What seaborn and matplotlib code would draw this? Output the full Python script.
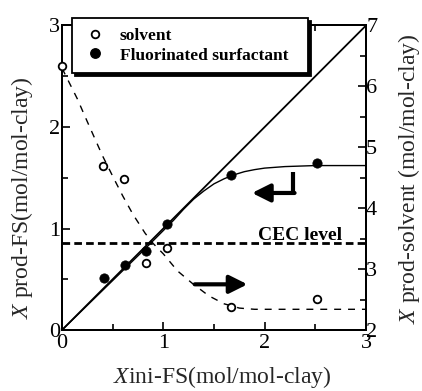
import matplotlib
matplotlib.use("Agg")
import matplotlib.pyplot as plt
import seaborn as sns
import pandas as pd
from matplotlib.lines import Line2D
from matplotlib.ticker import MultipleLocator

# ---- data ----
fs_x = [0.41, 0.62, 0.83, 1.04, 1.67, 2.52]
fs_y = [0.51, 0.64, 0.78, 1.04, 1.53, 1.65]

solv_x = [0.0, 0.40, 0.61, 0.83, 1.04, 1.67, 2.52]
solv_y = [6.33, 4.70, 4.48, 3.10, 3.34, 2.38, 2.51]

fs_fit_x = [0.0, 0.4, 0.8, 1.0, 1.1, 1.2, 1.3, 1.4, 1.5, 1.6, 1.7, 1.8, 1.9, 2.0, 2.2, 2.5, 3.0]
fs_fit_y = [0.0, 0.39, 0.78, 0.98, 1.08, 1.19, 1.29, 1.37, 1.44, 1.49, 1.53, 1.56, 1.58, 1.595, 1.61, 1.62, 1.62]

solv_fit_x = [0.0, 0.15, 0.25, 0.4, 0.52, 0.6, 0.7, 0.82, 0.9, 1.0, 1.14, 1.29, 1.45, 1.6, 1.75, 1.9, 3.0]
solv_fit_y = [6.30, 5.80, 5.42, 4.86, 4.46, 4.20, 3.90, 3.59, 3.42, 3.25, 2.97, 2.76, 2.56, 2.43, 2.36, 2.34, 2.34]

diag_x = [0, 3]
diag_y = [0, 3]
cec_level = 0.855

x_ticks = [0, 1, 2, 3]
left_ticks = [0, 1, 2, 3]
right_ticks = [2, 3, 4, 5, 6, 7]
legend_labels = ["solvent", "Fluorinated surfactant"]

# ---- style ----
sns.set_theme(style="ticks")
plt.rcParams["font.family"] = ["Liberation Serif", "DejaVu Serif"]
plt.rcParams["mathtext.fontset"] = "custom"
plt.rcParams["mathtext.it"] = "Liberation Serif:italic"
plt.rcParams["mathtext.rm"] = "Liberation Serif"
plt.rcParams["lines.scale_dashes"] = False
plt.rcParams["axes.edgecolor"] = "black"
plt.rcParams["xtick.color"] = "black"
plt.rcParams["ytick.color"] = "black"
plt.rcParams["text.color"] = "black"

fig = plt.figure(figsize=(4.22, 3.91), dpi=100)
ax = fig.add_axes([0.1469, 0.156, 0.7204, 0.7788])
ax2 = ax.twinx()

# left axis (fluorinated surfactant)
sns.lineplot(x=diag_x, y=diag_y, ax=ax, color="black", lw=1.3)
sns.lineplot(x=fs_fit_x, y=fs_fit_y, ax=ax, color="black", lw=1.0, sort=False)
ax.axhline(cec_level, color="black", lw=2.0, dashes=(5.5, 3.0))
sns.scatterplot(x=fs_x, y=fs_y, ax=ax, color="black", s=45, edgecolor="black",
                linewidth=0.5, zorder=5)

# right axis (solvent)
sns.lineplot(x=solv_fit_x, y=solv_fit_y, ax=ax2, color="black", lw=1.0,
             dashes=False, sort=False)
ax2.lines[-1].set_dashes((5, 5))
sns.scatterplot(x=solv_x, y=solv_y, ax=ax2, marker="o", facecolor="white",
                edgecolor="black", s=30, linewidth=1.3, zorder=5, clip_on=False)

ax.set_xlim(0, 3)
ax.set_ylim(0, 3)
ax2.set_ylim(2, 7)
ax.set_xticks(x_ticks)
ax.set_yticks(left_ticks)
ax2.set_yticks(right_ticks)
ax.xaxis.set_minor_locator(MultipleLocator(0.5))
ax.yaxis.set_minor_locator(MultipleLocator(0.5))
ax2.yaxis.set_minor_locator(MultipleLocator(0.5))

for a in (ax, ax2):
    for s in a.spines.values():
        s.set_visible(True)
        s.set_linewidth(1.4)
        s.set_color("black")

ax.tick_params(axis="both", which="both", direction="in", width=1.2, labelsize=16)
ax.tick_params(which="major", length=6)
ax.tick_params(which="minor", length=4)
ax.tick_params(axis="x", which="both", top=True, pad=3.0)
ax.tick_params(axis="y", which="both", right=False, pad=1.5)
ax2.tick_params(axis="y", which="both", direction="in", width=1.2, labelsize=16,
                left=False, right=True, pad=0)
ax2.tick_params(which="major", length=6)
ax2.tick_params(which="minor", length=4)

# labels
ax.set_xlabel(r"$X$ini-FS(mol/mol-clay)", fontsize=17)
ax.xaxis.set_label_coords(0.526, -0.111)
ax.set_ylabel(r"$X$ prod-FS(mol/mol-clay)", fontsize=17)
ax.yaxis.set_label_coords(-0.089, 0.434)
ax2.set_ylabel(r"$X$ prod-solvent (mol/mol-clay)", fontsize=17, rotation=90)
ax2.yaxis.set_label_coords(1.099, 0.497)

# annotations
ax.text(1.935, 0.885, "CEC level", fontsize=14, fontweight="bold", ha="left", va="baseline")
ax.plot([2.28, 2.28], [1.56, 1.35], color="black", lw=3.0, solid_capstyle="butt")
ax.annotate("", xy=(1.875, 1.35), xytext=(2.295, 1.35),
            arrowprops=dict(arrowstyle="-|>,head_length=0.9,head_width=0.45",
                            lw=3.0, color="black", shrinkA=0, shrinkB=0))
ax.annotate("", xy=(1.83, 0.45), xytext=(1.31, 0.45),
            arrowprops=dict(arrowstyle="-|>,head_length=0.9,head_width=0.45",
                            lw=3.0, color="black", shrinkA=0, shrinkB=0))

# legend
h_open = Line2D([], [], marker="o", ls="none", mfc="white", mec="black", ms=5.5, mew=1.3)
h_fill = Line2D([], [], marker="o", ls="none", mfc="black", mec="black", ms=6.8)
leg = ax2.legend([h_open, h_fill], legend_labels, loc="upper left",
                 bbox_to_anchor=(0.033, 0.85, 0.776, 0.174), mode="expand",
                 borderaxespad=0, fancybox=False, framealpha=1, edgecolor="black",
                 shadow={"color": "black", "alpha": 1},
                 prop={"weight": "bold", "size": 12.5}, handlelength=1.5,
                 handletextpad=0.7, borderpad=0.55, labelspacing=0.2)
leg.get_frame().set_linewidth(1.3)

fig.savefig("out.png", dpi=100)
